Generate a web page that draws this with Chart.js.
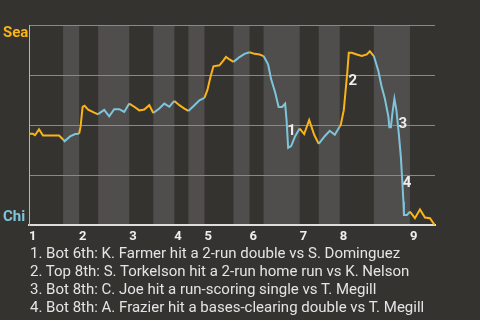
<!DOCTYPE html>
<html><head><meta charset="utf-8">
<script src="https://cdn.jsdelivr.net/npm/chart.js@4"></script>
<style>
html,body{margin:0;padding:0;background:#353330;}
#wrap{position:relative;width:480px;height:320px;overflow:hidden;background:#353330;}
#cv{position:absolute;left:0;top:0;width:480px;height:252px;}
#notes{position:absolute;left:30px;top:244px;font:15px Roboto, sans-serif;line-height:18px;color:#e4e4e4;white-space:nowrap;}
</style></head>
<body><div id="wrap"><div id="cv"><canvas id="c"></canvas></div><div id="notes"></div></div>
<script>
// ---- data ----
const awayTeam = 'Sea';
const homeTeam = 'Chi';
const inningLabels = ['1','2','3','4','5','6','7','8','9'];
// start of each half-inning (game progress units), top/bottom alternating
const halfStarts = [0,6.8,10,13.8,20,24.8,29,31.8,35,40.8,44,46.8,54,57.8,62,68.8,76];
const gameEnd = 81;
const yTicks = [0,25,50,75,100];
// game progress of each event
const progress = [
  0,0.8,1.2,2,2.8,4,6,6.8,
  7.1,8.2,9.2,10,
  10.3,10.5,10.7,11.1,11.8,12.9,13.8,
  14,15,16,17,18,19,20,
  21,22,23,24,24.8,
  26,27,28,29,
  30,31,31.8,
  33,34,35,
  35.6,36.2,36.8,38,38.8,39.3,40,40.8,
  42,43,44,
  45,46,46.8,
  47.7,48.3,49.1,49.8,50.5,51.1,51.4,51.7,52.3,53.1,54,
  54.9,55.9,56.9,57.8,
  59,60,61,62,
  62.2,62.8,63.5,63.8,64.4,65.4,66.4,67.4,68,68.8,
  69.7,70.3,71,71.7,71.9,72.2,72.5,72.9,73.3,73.8,74.2,74.5,74.7,74.8,75.4,76,
  77,78,79,80,81
];
// Seattle win probability (%) after each event
const winProb = [
  45.7,45.7,45.0,47.9,44.8,44.8,44.8,42.9,
  42.0,44.4,45.6,45.7,
  49.5,54.4,59.1,59.7,57.8,56.4,55.4,
  55.9,57.6,54.4,58.0,58.0,56.6,60.8,
  59.2,57.4,57.8,60.0,56.1,
  58.3,60.8,59.2,62.1,
  60.0,58.3,57.1,
  60.0,62.4,63.6,
  67.6,74.0,79.4,79.9,82.4,84.1,82.8,81.6,
  84.0,85.6,86.4,
  85.6,85.3,84.5,
  80.4,73.0,66.4,59.1,59.1,60.8,52.0,38.7,39.6,44.5,48.3,
  45.6,52.6,45.2,40.7,
  44.5,47.2,45.2,49.3,
  50.2,57.5,76.3,86.1,86.1,85.3,84.5,85.3,86.9,84.5,
  77.1,69.8,63.2,54.3,49.0,49.0,55.9,63.2,57.5,45.2,33.8,20.7,11.8,5.2,5.2,6.9,
  3.6,8.0,3.9,3.6,0
];
const noteLabels = ['1','2','3','4'];
const noteX = [52.4,64.6,74.6,75.4];
const noteY = [47.1,72.1,50.5,21.1];
const notes = [
  '1. Bot 6th: K. Farmer hit a 2-run double vs S. Dominguez',
  '2. Top 8th: S. Torkelson hit a 2-run home run vs K. Nelson',
  '3. Bot 8th: C. Joe hit a run-scoring single vs T. Megill',
  '4. Bot 8th: A. Frazier hit a bases-clearing double vs T. Megill'
];

// ---- style ----
const ORANGE = '#fbb418';
const BLUE = '#7ec5dc';
const BAND = '#504e4c';

document.getElementById('notes').innerHTML = notes.map(t => '<div>' + t + '</div>').join('');

const inningStarts = halfStarts.filter((v, i) => i % 2 === 0);
function halfIndex(x) {
  let idx = 0;
  for (let i = 0; i < halfStarts.length; i++) if (x >= halfStarts[i]) idx = i;
  return idx;
}
const points = progress.map((x, i) => ({x: x, y: winProb[i]}));

const bandsUnder = {
  id: 'bandsUnder',
  beforeDraw(chart) {
    const {ctx, chartArea: a, scales: {x}} = chart;
    if (!x) return;
    ctx.save();
    ctx.fillStyle = BAND;
    for (let i = 1; i < halfStarts.length; i += 2) {
      const x0 = x.getPixelForValue(halfStarts[i]);
      const x1 = x.getPixelForValue(i + 1 < halfStarts.length ? halfStarts[i + 1] : gameEnd);
      ctx.fillRect(x0, a.top, x1 - x0, a.bottom - a.top);
    }
    ctx.restore();
  }
};
const labelsPlugin = {
  id: 'labels',
  afterDatasetsDraw(chart) {
    const {ctx, chartArea: a, scales: {x, y}} = chart;
    ctx.save();
    ctx.font = 'bold 15px Roboto, sans-serif';
    ctx.textAlign = 'center';
    ctx.textBaseline = 'middle';
    ctx.fillStyle = '#eeeeee';
    noteLabels.forEach((t, i) => ctx.fillText(t, x.getPixelForValue(noteX[i]), y.getPixelForValue(noteY[i])));
    ctx.textAlign = 'left';
    ctx.textBaseline = 'alphabetic';
    ctx.fillStyle = ORANGE;
    ctx.fillText(awayTeam, 3, a.top + 12);
    ctx.fillStyle = BLUE;
    ctx.fillText(homeTeam, 3, a.bottom - 4);
    ctx.restore();
  }
};

new Chart(document.getElementById('c'), {
  type: 'line',
  data: {
    datasets: [{
      data: points,
      borderWidth: 2,
      pointRadius: 0,
      tension: 0,
      borderColor: BLUE,
      segment: {
        borderColor: c => (halfIndex((c.p0.parsed.x + c.p1.parsed.x) / 2) % 2 === 0 ? ORANGE : BLUE)
      }
    }]
  },
  options: {
    responsive: true,
    maintainAspectRatio: false,
    animation: false,
    devicePixelRatio: 1,
    layout: {padding: {top: 25, left: 29, right: 45, bottom: 3}},
    plugins: {legend: {display: false}, tooltip: {enabled: false}},
    scales: {
      x: {
        type: 'linear',
        min: 0,
        max: gameEnd,
        grid: {display: false, drawTicks: false},
        border: {display: true, color: '#dddddd', width: 2},
        afterBuildTicks: s => { s.ticks = inningStarts.map(v => ({value: v})); },
        ticks: {
          autoSkip: false,
          maxRotation: 0,
          align: 'start',
          padding: 4,
          color: '#eeeeee',
          font: {family: 'Roboto', size: 13, weight: 'bold'},
          callback: v => inningLabels[inningStarts.indexOf(v)]
        }
      },
      y: {
        min: 0,
        max: 100,
        afterBuildTicks: s => { s.ticks = yTicks.map(v => ({value: v})); },
        ticks: {display: false},
        grid: {color: '#8a8987', lineWidth: 1, drawTicks: false},
        border: {display: true, color: '#b5b5b3', width: 1}
      }
    }
  },
  plugins: [bandsUnder, labelsPlugin]
});
</script>
</body></html>
